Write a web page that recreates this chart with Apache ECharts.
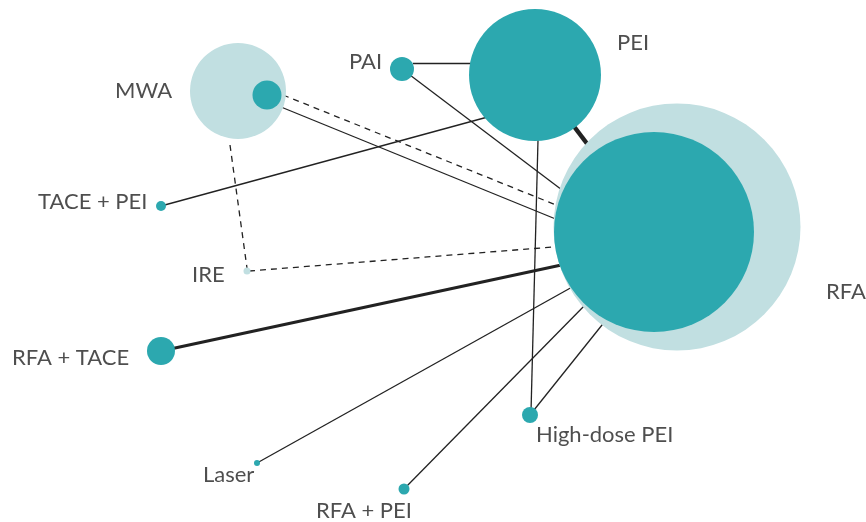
<!DOCTYPE html>
<html>
<head>
<meta charset="utf-8">
<script src="https://cdn.jsdelivr.net/npm/echarts@6/dist/echarts.min.js"></script>
<style>
  html, body { margin: 0; padding: 0; background: #fff; }
  #net { width: 866px; height: 522px; }
</style>
</head>
<body>
<div id="net"></div>
<script>
// treatments in the network
var treatments = ["PEI", "RFA", "MWA", "PAI", "TACE + PEI", "IRE", "RFA + TACE", "Laser", "RFA + PEI", "High-dose PEI"];
// node layout (x, y in plot units, y grows downward)
var nodeX = [535, 654, 267, 402, 161, 247, 161, 257, 404, 530];
var nodeY = [75, 232, 95, 69, 206, 271, 351, 463, 489, 415];
// inner circle weight (diameter units), 0 = none
var studyWeight = [132, 200, 29, 24, 10, 0, 28, 6, 11, 16];
// outer circle (pale) centre + weight
var outerX = [null, 677, 238, null, null, 247, null, null, null, null];
var outerY = [null, 227, 91, null, null, 271, null, null, null, null];
var patientWeight = [0, 247, 96, 0, 0, 7, 0, 0, 0, 0];
// label anchor (left edge of text, middle line)
var labelX = [617, 826, 115, 349, 38, 192, 12, 203, 316, 536];
var labelY = [43, 292, 91, 62, 202, 275, 358, 475, 511, 435];

// comparisons
var edgeFrom = ["PAI", "PAI", "TACE + PEI", "MWA", "MWA", "PEI", "IRE", "MWA", "RFA + TACE", "PEI", "Laser", "RFA + PEI", "High-dose PEI"];
var edgeTo   = ["PEI", "RFA", "PEI", "RFA", "RFA", "High-dose PEI", "RFA", "IRE", "RFA", "RFA", "RFA", "RFA", "RFA"];
var edgeX1 = [413, 402, 161, 283, 281, 538, 249, 230, 161, 535, 257, 404, 530];
var edgeY1 = [63, 69, 206, 95, 107, 140, 271, 145, 351, 75, 463, 489, 415];
var edgeX2 = [480, 566, 495, 566, 563, 531, 566, 247, 566, 654, 574, 588, 606];
var edgeY2 = [63, 193, 115, 209, 222, 412, 246, 268, 264, 232, 286, 302, 320];
var edgeWidth = [1.3, 1.3, 1.3, 1.3, 1.3, 1.3, 1.3, 1.3, 3, 4.5, 1.3, 1.3, 1.3];
var edgeDashed = [0, 0, 0, 1, 0, 0, 1, 1, 0, 0, 0, 0, 0];

var DARK = "#2ca8af";
var PALE = "#c1dfe1";

function myNetwork() {
    var chart = echarts.init(document.getElementById("net"));

    var lineData = [];
    for (var i = 0; i < edgeFrom.length; i++) {
        lineData.push({
            name: edgeFrom[i] + " vs " + edgeTo[i],
            coords: [[edgeX1[i], edgeY1[i]], [edgeX2[i], edgeY2[i]]],
            lineStyle: {
                width: edgeWidth[i],
                type: edgeDashed[i] ? [6, 5] : "solid"
            }
        });
    }

    var outerData = [], innerData = [], labelData = [];
    for (var j = 0; j < treatments.length; j++) {
        if (patientWeight[j] > 0) {
            outerData.push({ name: treatments[j], value: [outerX[j], outerY[j], patientWeight[j]] });
        }
        if (studyWeight[j] > 0) {
            innerData.push({ name: treatments[j], value: [nodeX[j], nodeY[j], studyWeight[j]] });
        }
        labelData.push({ name: treatments[j], value: [labelX[j], labelY[j]] });
    }

    var option = {
        animation: false,
        grid: { left: 0, right: 0, top: 0, bottom: 0 },
        xAxis: { type: "value", min: 0, max: 866, show: false },
        yAxis: { type: "value", min: 0, max: 522, inverse: true, show: false },
        series: [{
            type: "lines",
            coordinateSystem: "cartesian2d",
            z: 1,
            lineStyle: { color: "#222", opacity: 1 },
            data: lineData
        }, {
            type: "scatter",
            z: 2,
            symbolSize: function (v) { return v[2]; },
            itemStyle: { color: PALE, opacity: 1 },
            data: outerData
        }, {
            type: "scatter",
            z: 3,
            symbolSize: function (v) { return v[2]; },
            itemStyle: { color: DARK, opacity: 1 },
            data: innerData
        }, {
            type: "scatter",
            z: 4,
            symbolSize: 0,
            label: {
                show: true,
                position: "right",
                distance: 0,
                formatter: "{b}",
                fontFamily: "Lato",
                fontSize: 22,
                color: "#222"
            },
            data: labelData
        }]
    };
    chart.setOption(option);
    window.addEventListener("resize", function () {
        chart.resize();
    });
}
myNetwork();
</script>
</body>
</html>
